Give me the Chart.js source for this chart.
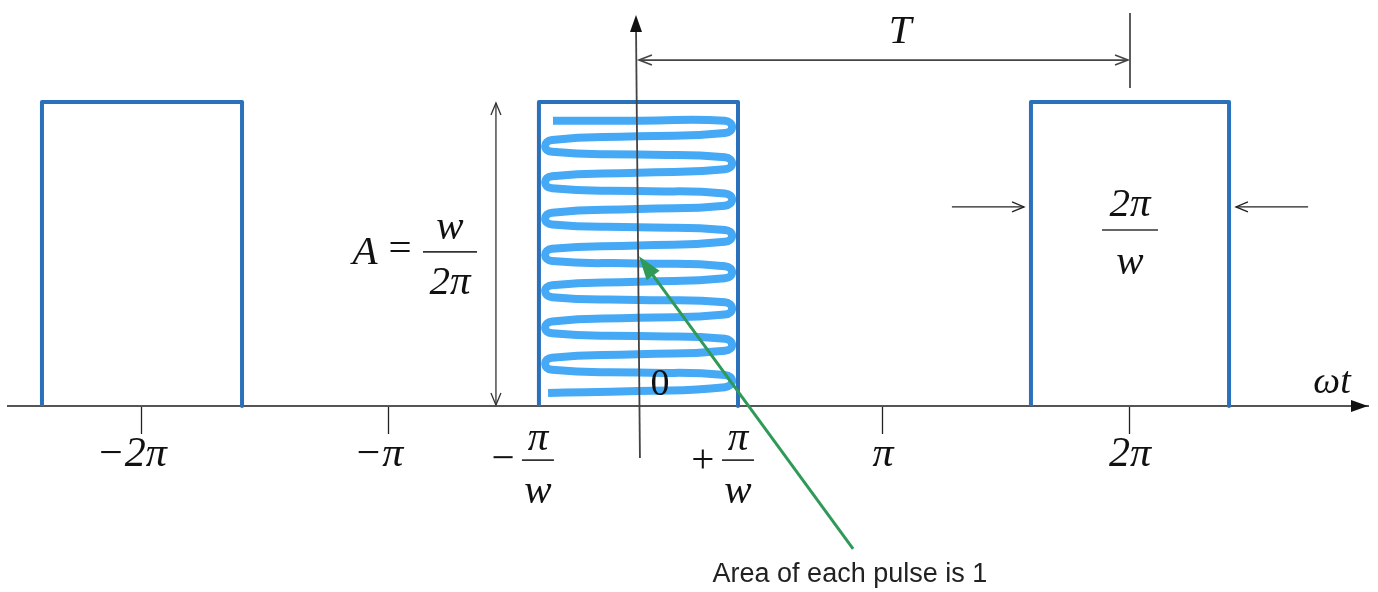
<!DOCTYPE html>
<html>
<head>
<meta charset="utf-8">
<script src="https://cdn.jsdelivr.net/npm/chart.js@4/dist/chart.umd.min.js"></script>
<style>
  html, body { margin: 0; padding: 0; background: #ffffff; }
  #wrap { width: 1378px; height: 592px; }
</style>
</head>
<body>
<div id="wrap"><canvas id="c" width="1378" height="592"></canvas></div>
<script>
// ---- data (x in multiples of π, y in units of the pulse height A) ----
const xTickValues = [-2, -1, 1, 2];
const xTickLabels = ['\u22122\u03C0\u2002', '\u2212\u03C0\u2002', '\u03C0', '2\u03C0'];
const pulseLeft  = [-2.405, -0.393, 1.599];   // left edges of the pulses (≈ kT − π/w)
const pulseRight = [-1.595, 0.413, 2.401];    // right edges (≈ kT + π/w)
const pulseHeight = 1;                         // A = w/2π
// coil drawn inside the central pulse (key points)
const coilX = [-0.336, 0.016,
  0.360, 0.389, 0.360, 0.008, -0.340, -0.368, -0.340, 0.008,
  0.360, 0.389, 0.360, 0.008, -0.340, -0.368, -0.340, 0.008,
  0.360, 0.389, 0.360, 0.008, -0.340, -0.368, -0.340, 0.008,
  0.360, 0.389, 0.360, 0.008, -0.340, -0.368, -0.340, 0.008,
  0.360, 0.389, 0.360, 0.008, -0.340, -0.368, -0.340, 0.008,
  0.360, 0.389, 0.360, 0.008, -0.340, -0.368, -0.340, 0.008,
  0.360, 0.389, 0.360, 0.008, -0.340, -0.368, -0.340, 0.008,
  0.360, 0.389, 0.360, 0.008, -0.356];
const coilY = [0.938, 0.938,
  0.938, 0.918, 0.898, 0.887, 0.875, 0.855, 0.836, 0.827,
  0.818, 0.798, 0.779, 0.767, 0.756, 0.736, 0.716, 0.707,
  0.699, 0.679, 0.659, 0.648, 0.636, 0.616, 0.597, 0.588,
  0.579, 0.560, 0.540, 0.528, 0.517, 0.497, 0.477, 0.469,
  0.460, 0.440, 0.420, 0.409, 0.397, 0.378, 0.358, 0.349,
  0.341, 0.321, 0.301, 0.290, 0.278, 0.258, 0.239, 0.230,
  0.221, 0.201, 0.182, 0.170, 0.159, 0.139, 0.119, 0.110,
  0.102, 0.082, 0.062, 0.049, 0.043];

// ---- view window ----
const X_MIN = -2.5425, X_MAX = 2.9636;
const Y_MIN = -0.6118, Y_MAX = 1.3355;

const SERIF = '"Liberation Serif", "Times New Roman", serif';
const SANS = '"Liberation Sans", Arial, sans-serif';
const PULSE_COLOR = '#2a70ba';
const COIL_COLOR = '#45a9f5';
const GREEN = '#2f9a57';

const pulseDatasets = pulseLeft.map((l, i) => ({
  data: [
    {x: l, y: 0},
    {x: l, y: pulseHeight},
    {x: pulseRight[i], y: pulseHeight},
    {x: pulseRight[i], y: 0}
  ],
  showLine: true, borderColor: PULSE_COLOR, borderWidth: 4, pointRadius: 0,
  borderJoinStyle: 'round', tension: 0, clip: false
}));

const coilDataset = {
  data: coilX.map((v, i) => ({x: v, y: coilY[i]})),
  showLine: true, borderColor: COIL_COLOR, borderWidth: 8, pointRadius: 0,
  tension: 0.5, borderCapStyle: 'butt', borderJoinStyle: 'round', clip: false
};

const annot = {
  id: 'annot',
  afterDatasetsDraw(chart) {
    const {ctx, scales: {x, y}} = chart;
    const X = v => x.getPixelForValue(v);
    const Y = v => y.getPixelForValue(v);
    ctx.save();
    ctx.lineCap = 'butt';

    const line = (x1, y1, x2, y2, color, w) => {
      ctx.strokeStyle = color; ctx.lineWidth = w;
      ctx.beginPath(); ctx.moveTo(x1, y1); ctx.lineTo(x2, y2); ctx.stroke();
    };
    const openHead = (tx, ty, fx, fy, len, half, color, w) => {
      const d = Math.hypot(tx - fx, ty - fy), ux = (tx - fx) / d, uy = (ty - fy) / d;
      const bx = tx - ux * len, by = ty - uy * len;
      ctx.strokeStyle = color; ctx.lineWidth = w;
      ctx.beginPath();
      ctx.moveTo(bx - uy * half, by + ux * half);
      ctx.lineTo(tx, ty);
      ctx.lineTo(bx + uy * half, by - ux * half);
      ctx.stroke();
    };
    const fillHead = (tx, ty, fx, fy, len, half, color) => {
      const d = Math.hypot(tx - fx, ty - fy), ux = (tx - fx) / d, uy = (ty - fy) / d;
      const bx = tx - ux * len, by = ty - uy * len;
      ctx.fillStyle = color;
      ctx.beginPath();
      ctx.moveTo(tx, ty);
      ctx.lineTo(bx - uy * half, by + ux * half);
      ctx.lineTo(bx + uy * half, by - ux * half);
      ctx.closePath(); ctx.fill();
    };
    const text = (s, px, py, font, color, align) => {
      ctx.font = font; ctx.fillStyle = color || '#111';
      ctx.textAlign = align || 'center'; ctx.textBaseline = 'middle';
      ctx.fillText(s, px, py);
    };
    const frac = (num, den, cx, yNum, yBar, yDen, halfBar, font) => {
      text(num, cx, Y(yNum), font);
      text(den, cx, Y(yDen), font);
      line(cx - halfBar, Y(yBar), cx + halfBar, Y(yBar), '#333', 1.6);
    };
    const italic = 'italic 41px ' + SERIF;
    const upright = '41px ' + SERIF;

    // x-axis arrow head
    fillHead(x.right, Y(0), x.right - 20, Y(0), 17, 6, '#111');

    // y-axis with arrow head
    const yTop = Y(1.286);
    line(X(0.016), Y(-0.171), X(0), yTop + 10, '#444', 1.8);
    fillHead(X(0), yTop, X(0), yTop + 20, 17, 6, '#111');

    // vertical dimension (A) double arrow
    line(X(-0.567), Y(0.997), X(-0.567), Y(0.003), '#333', 1.3);
    openHead(X(-0.567), Y(0.997), X(-0.567), Y(0.5), 12, 5, '#333', 1.3);
    openHead(X(-0.567), Y(0.003), X(-0.567), Y(0.5), 12, 5, '#333', 1.3);

    // period T double arrow and marker
    line(X(0.012), Y(1.138), X(1.992), Y(1.138), '#444', 1.8);
    openHead(X(0.012), Y(1.138), X(1), Y(1.138), 13, 5, '#444', 1.6);
    openHead(X(1.992), Y(1.138), X(1), Y(1.138), 13, 5, '#444', 1.6);
    line(X(2), Y(1.293), X(2), Y(1.046), '#333', 1.6);
    text('T', X(1.069), Y(1.23), italic);

    // pulse width arrows
    line(X(1.279), Y(0.655), X(1.571), Y(0.655), '#222', 1.3);
    openHead(X(1.571), Y(0.655), X(1.279), Y(0.655), 12, 5, '#222', 1.3);
    line(X(2.721), Y(0.655), X(2.429), Y(0.655), '#222', 1.3);
    openHead(X(2.429), Y(0.655), X(2.721), Y(0.655), 12, 5, '#222', 1.3);
    frac('2\u03C0', 'w', X(2), 0.661, 0.579, 0.47, 28, italic);

    // A = w / 2π
    text('A', X(-1.097), Y(0.503), italic);
    text('=', X(-0.955), Y(0.513), upright);
    frac('w', '2\u03C0', X(-0.753), 0.586, 0.507, 0.405, 27, italic);

    // fraction tick labels ±π/w
    text('\u2212', X(-0.538), Y(-0.178), upright);
    frac('\u03C0', 'w', X(-0.397), -0.108, -0.178, -0.285, 16, italic);
    text('+', X(0.271), Y(-0.183), upright);
    frac('\u03C0', 'w', X(0.413), -0.108, -0.178, -0.285, 16, italic);

    // origin and axis name
    text('0', X(0.097), Y(0.069), '38px ' + SERIF);
    text('\u03C9t', X(2.818), Y(0.076), 'italic 38px ' + SERIF);

    // green pointer
    const gx1 = X(0.879), gy1 = Y(-0.470), gx2 = X(0.012), gy2 = Y(0.493);
    const gd = Math.hypot(gx2 - gx1, gy2 - gy1);
    line(gx1, gy1, gx2 - (gx2 - gx1) / gd * 18, gy2 - (gy2 - gy1) / gd * 18, GREEN, 3);
    fillHead(gx2, gy2, gx1, gy1, 24, 8, GREEN);
    text('Area of each pulse is 1', X(0.866), Y(-0.556), '27px ' + SANS, '#222');

    ctx.restore();
  }
};

new Chart(document.getElementById('c'), {
  type: 'scatter',
  data: { datasets: [...pulseDatasets, coilDataset] },
  options: {
    responsive: false,
    animation: false,
    devicePixelRatio: 1,
    events: [],
    layout: { padding: { left: 8, right: 10, top: 0, bottom: 0 } },
    plugins: { legend: { display: false }, tooltip: { enabled: false }, title: { display: false } },
    scales: {
      x: {
        type: 'linear', min: X_MIN, max: X_MAX,
        position: { y: 0 },
        afterBuildTicks: s => { s.ticks = xTickValues.map(v => ({ value: v })); },
        afterFit: s => { s.height = 0; },
        grid: { drawOnChartArea: false, drawTicks: true, tickLength: 27, tickColor: '#222', tickWidth: 1.3 },
        border: { display: true, color: '#555', width: 2 },
        ticks: {
          callback: v => xTickLabels[xTickValues.indexOf(v)],
          font: { family: SERIF, size: 42, style: 'italic', lineHeight: 1 },
          color: '#111', padding: 1, maxRotation: 0, autoSkip: false
        }
      },
      y: { type: 'linear', min: Y_MIN, max: Y_MAX, display: false }
    }
  },
  plugins: [annot]
});
</script>
</body>
</html>
